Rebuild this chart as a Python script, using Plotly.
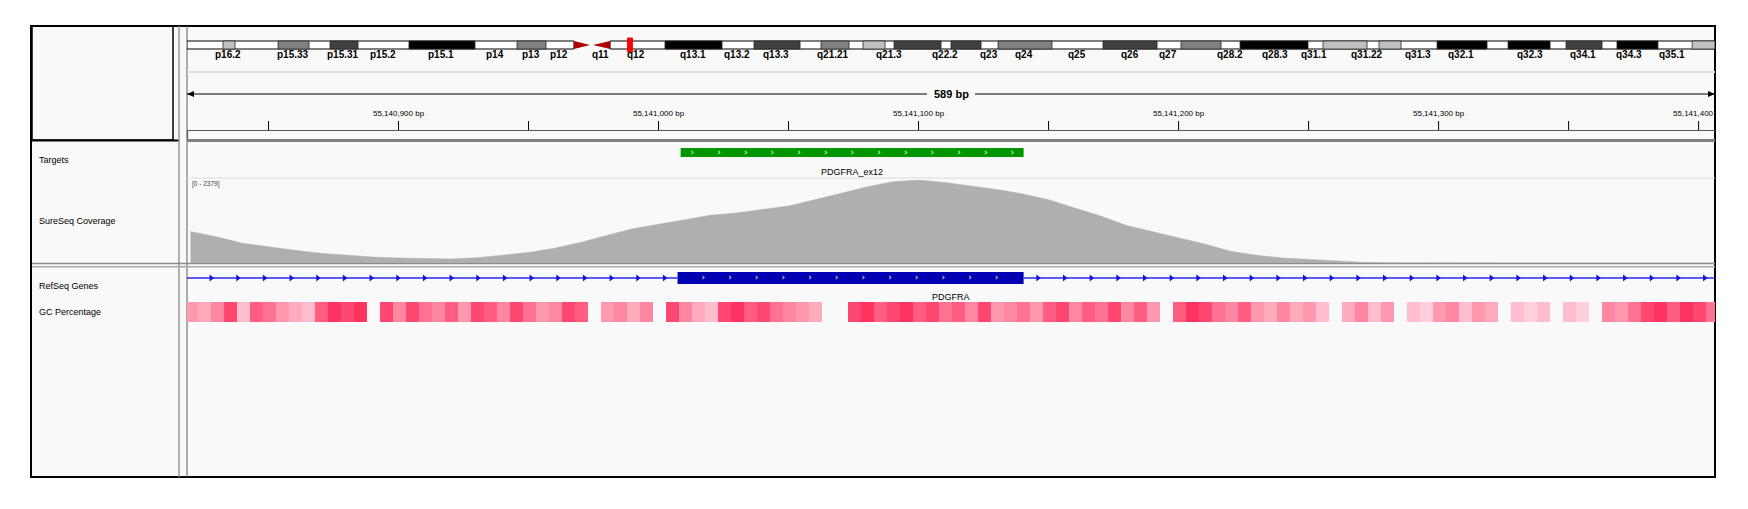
import numpy as np
import plotly.graph_objects as go

W, H = 1748, 509

# ---------------- data ----------------
view_start = 55140818.65
view_end = 55141406.3
ruler_label = "589 bp"
chrom_length_mb = 190.2

tick_major = [55140900, 55141000, 55141100, 55141200, 55141300, 55141400]
tick_major_labels = ["55,140,900 bp", "55,141,000 bp", "55,141,100 bp",
                     "55,141,200 bp", "55,141,300 bp", "55,141,400 bp"]
tick_minor = [55140850, 55140950, 55141050, 55141150, 55141250, 55141350]

# chr4 ideogram (Mb)
band_start = [4.48, 11.33, 17.80, 27.63, 41.08, 59.50, 70.58, 78.92, 84.15, 88.01, 95.10,
              100.95, 114.02, 123.73, 131.08, 141.41, 148.38, 155.60, 164.44, 171.66, 178.0, 187.35]
band_end = [5.98, 15.19, 21.29, 35.85, 44.69, 66.60, 76.31, 82.41, 86.89, 93.86, 98.84,
            107.67, 120.75, 128.71, 139.54, 146.89, 151.12, 161.82, 169.67, 176.14, 183.1, 190.2]
band_stain = ["gpos25", "gpos50", "gpos75", "gpos100", "gpos50", "gpos100", "gpos75", "gpos50",
              "gpos25", "gpos75", "gpos75", "gpos50", "gpos75", "gpos50", "gpos100", "gpos25",
              "gpos25", "gpos100", "gpos100", "gpos75", "gpos100", "gpos25"]
band_names = ["p16.2", "p15.33", "p15.31", "p15.2", "p15.1", "p14", "p13", "p12", "q11", "q12",
              "q13.1", "q13.2", "q13.3", "q21.21", "q21.3", "q22.2", "q23", "q24", "q25", "q26",
              "q27", "q28.2", "q28.3", "q31.1", "q31.22", "q31.3", "q32.1", "q32.3", "q34.1",
              "q34.3", "q35.1"]
band_name_pos = [5.10, 13.19, 19.42, 24.40, 31.62, 38.34, 42.82, 46.31, 51.41, 55.89,
                 62.99, 68.46, 73.32, 80.41, 87.39, 94.36, 99.83, 104.19, 110.79, 117.38,
                 122.11, 129.83, 135.43, 140.29, 146.89, 153.24, 158.59, 167.18, 173.78,
                 179.51, 184.86]
cen_p = [48.17, 50.17]
cen_q = [50.54, 52.66]

# features
target_start, target_end, target_name = 55141008.5, 55141140.4, "PDGFRA_ex12"
gene_start, gene_end, gene_name = 55095264, 55164414, "PDGFRA"
exon_start, exon_end = 55141007.3, 55141140.4

# coverage
cov_pos = [55140820, 55140830, 55140840, 55140850, 55140860, 55140870, 55140880, 55140890,
           55140900, 55140910, 55140920, 55140930, 55140940, 55140950, 55140960, 55140970,
           55140980, 55140990, 55141000, 55141010, 55141020, 55141030, 55141040, 55141050,
           55141060, 55141070, 55141080, 55141090, 55141100, 55141110, 55141120, 55141130,
           55141140, 55141150, 55141160, 55141170, 55141180, 55141190, 55141200, 55141210,
           55141220, 55141230, 55141240, 55141250, 55141260, 55141270, 55141280, 55141290,
           55141300, 55141310, 55141320, 55141330, 55141340, 55141350, 55141360, 55141370,
           55141380, 55141390, 55141400, 55141410]
cov_val = [900, 750, 565, 455, 365, 280, 215, 170, 145, 125, 118, 150, 215, 300, 425, 590,
           790, 980, 1110, 1240, 1370, 1435, 1525, 1635, 1810, 1990, 2180, 2330, 2379, 2310,
           2220, 2110, 1980, 1815, 1580, 1347, 1075, 895, 720, 545, 335, 220, 145, 100,
           55, 25, 5, 0, 0, 0, 0, 0, 0, 0, 0, 0, 0, 0, 0, 0]
cov_max = 2379

# GC percentage, 5-bp windows
gc_start = 55140818
gc_window = 5
gc_val = [50, 45, 55, 70, 40, 65, 60, 50, 45, 40,
          65, 75, 70, 75, None, 70, 55, 70, 60, 55,
          65, 50, 70, 65, 55, 70, 60, 50, 55, 70,
          65, None, 50, 55, 45, 55, None, 70, 55, 45,
          40, 70, 75, 65, 70, 60, 55, 50, 45, None,
          None, 70, 75, 65, 70, 75, 65, 70, 60, 65,
          55, 70, 50, 55, 60, 50, 65, 70, 55, 65,
          60, 70, 55, 65, 50, None, 65, 75, 70, 60,
          55, 65, 50, 45, 55, 45, 50, 40, None, 45,
          55, 40, 50, None, 40, 35, 50, 55, 40, 50,
          45, None, 40, 35, 40, None, 40, 35, None, 55,
          50, 60, 70, 75, 65, 75, 70, 60]

track_names = ["Targets", "SureSeq Coverage", "RefSeq Genes", "GC Percentage"]

# ---------------- layout helpers ----------------
OX, OY = 8, 8          # page body margin of the browser
X0, X1 = 187, 1715
FONT = "Liberation Sans"


def xp(px):
    return (px - OX) / W


def yp(py):
    return 1 - (py - OY) / H


stain_color = {"gpos25": "rgb(192,192,192)", "gpos50": "rgb(128,128,128)",
               "gpos75": "rgb(64,64,64)", "gpos100": "rgb(0,0,0)"}

shapes = []


def pline(x0, y0, x1, y1, color, width):
    shapes.append(dict(type="line", xref="paper", yref="paper", x0=xp(x0), x1=xp(x1),
                       y0=yp(y0), y1=yp(y1), line=dict(color=color, width=width), layer="below"))


# panel background + frame
shapes.append(dict(type="rect", xref="paper", yref="paper", x0=xp(31), x1=xp(1715),
                   y0=yp(477), y1=yp(26), fillcolor="rgb(249,249,249)",
                   line=dict(color="black", width=2), layer="below"))
# header name box
shapes.append(dict(type="rect", xref="paper", yref="paper", x0=xp(32), x1=xp(173),
                   y0=yp(140), y1=yp(26), line=dict(color="black", width=1.5), layer="below"))
pline(32, 140.5, 179, 140.5, "black", 2)
pline(179, 26, 179, 477, "rgb(150,150,150)", 1.5)
pline(187, 26, 187, 477, "rgb(120,120,120)", 1.2)
pline(187, 72, 1715, 72, "rgb(222,222,222)", 2)
pline(187, 130.5, 1715, 130.5, "rgb(90,90,90)", 1.2)
pline(187.5, 130, 187.5, 140, "rgb(90,90,90)", 1.2)
pline(187, 140.5, 1715, 140.5, "rgb(128,128,128)", 3)
pline(187, 178, 1715, 178, "rgb(220,220,220)", 1.2)
pline(32, 263.5, 1715, 263.5, "rgb(140,140,140)", 1.5)
pline(32, 266.8, 1715, 266.8, "rgb(170,170,170)", 1.5)

# ideogram
iy0, iy1 = yp(49), yp(41)
for a, b in [(0, cen_p[0]), (cen_q[1], chrom_length_mb)]:
    shapes.append(dict(type="rect", xref="x2", yref="paper", x0=a, x1=b, y0=iy0, y1=iy1,
                       fillcolor="white", line=dict(color="black", width=1), layer="below"))
for s, e, st in zip(band_start, band_end, band_stain):
    shapes.append(dict(type="rect", xref="x2", yref="paper", x0=s, x1=e, y0=iy0, y1=iy1,
                       fillcolor=stain_color[st], line=dict(color="rgb(40,40,40)", width=0.8),
                       layer="below"))
ymid = (iy0 + iy1) / 2
shapes.append(dict(type="path", xref="x2", yref="paper",
                   path=f"M {cen_p[0]},{iy0} L {cen_p[1]},{ymid} L {cen_p[0]},{iy1} Z",
                   fillcolor="rgb(175,0,0)", line=dict(width=0), layer="below"))
shapes.append(dict(type="path", xref="x2", yref="paper",
                   path=f"M {cen_q[1]},{iy0} L {cen_q[0]},{ymid} L {cen_q[1]},{iy1} Z",
                   fillcolor="rgb(175,0,0)", line=dict(width=0), layer="below"))
view_mb = (view_start + view_end) / 2e6
shapes.append(dict(type="rect", xref="x2", yref="paper", x0=view_mb - 0.3, x1=view_mb + 0.3,
                   y0=yp(52), y1=yp(38), fillcolor="rgb(255,0,0)",
                   line=dict(color="rgb(255,0,0)", width=1), layer="below"))

# ruler line with arrows and centered label
cx = (X0 + X1) / 2
pline(X0, 94, cx - 24, 94, "black", 1)
pline(cx + 24, 94, X1, 94, "black", 1)
shapes.append(dict(type="path", xref="paper", yref="paper",
                   path=f"M {xp(X0)},{yp(94)} L {xp(X0 + 7)},{yp(91)} L {xp(X0 + 7)},{yp(97)} Z",
                   fillcolor="black", line=dict(width=0), layer="below"))
shapes.append(dict(type="path", xref="paper", yref="paper",
                   path=f"M {xp(X1)},{yp(94)} L {xp(X1 - 7)},{yp(91)} L {xp(X1 - 7)},{yp(97)} Z",
                   fillcolor="black", line=dict(width=0), layer="below"))
for t in tick_major + tick_minor:
    shapes.append(dict(type="line", xref="x", yref="paper", x0=t, x1=t, y0=yp(130), y1=yp(121),
                       line=dict(color="black", width=1), layer="below"))

# target and exon blocks
shapes.append(dict(type="rect", xref="x", yref="paper", x0=target_start, x1=target_end,
                   y0=yp(157), y1=yp(148), fillcolor="rgb(0,150,0)", line=dict(width=0),
                   layer="below"))
shapes.append(dict(type="rect", xref="x", yref="paper", x0=exon_start, x1=exon_end,
                   y0=yp(284), y1=yp(272), fillcolor="rgb(0,0,178)", line=dict(width=0),
                   layer="below"))

# ---------------- traces ----------------
fig = go.Figure()

# ruler tick labels (clipped at panel edge)
fig.add_trace(go.Scatter(x=tick_major, y=[0.5] * len(tick_major), text=tick_major_labels,
                         mode="text", textfont=dict(family=FONT, size=8, color="black"),
                         xaxis="x", yaxis="y", cliponaxis=True, hoverinfo="skip",
                         showlegend=False))

# target chevrons
step = 26.67 / ((X1 - X0) / (view_end - view_start))
t_chev = np.arange(target_start + 4.5, target_end - 2, step)
fig.add_trace(go.Scatter(x=t_chev, y=[0.5] * len(t_chev), text=["›"] * len(t_chev),
                         mode="text", textfont=dict(family="DejaVu Sans", size=9, color="white"),
                         xaxis="x", yaxis="y3", cliponaxis=False, hoverinfo="skip",
                         showlegend=False))

# coverage
fig.add_trace(go.Scatter(x=cov_pos, y=cov_val, mode="lines", fill="tozeroy",
                         fillcolor="rgb(175,175,175)", line=dict(color="rgb(175,175,175)", width=0.5),
                         xaxis="x", yaxis="y4", hoverinfo="skip", showlegend=False))

# gene line
fig.add_trace(go.Scatter(x=[gene_start, exon_start, None, exon_end, gene_end],
                         y=[0.5, 0.5, None, 0.5, 0.5], mode="lines",
                         line=dict(color="rgb(40,40,245)", width=1.6),
                         xaxis="x", yaxis="y5", hoverinfo="skip", showlegend=False))
arrows = np.arange(view_start + 9.25, view_end, step)
arrows = arrows[(arrows < exon_start - 2) | (arrows > exon_end + 2)]
fig.add_trace(go.Scatter(x=arrows, y=[0.5] * len(arrows), mode="markers",
                         marker=dict(symbol="triangle-right", size=6, color="rgb(20,20,220)"),
                         xaxis="x", yaxis="y5", cliponaxis=True, hoverinfo="skip",
                         showlegend=False))
g_chev = np.arange(exon_start + 9.9, exon_end - 2, step)
fig.add_trace(go.Scatter(x=g_chev, y=[0.5] * len(g_chev), text=["›"] * len(g_chev),
                         mode="text", textfont=dict(family="DejaVu Sans", size=9, color="white"),
                         xaxis="x", yaxis="y5", cliponaxis=False, hoverinfo="skip",
                         showlegend=False))

# GC percentage heatmap
fig.add_trace(go.Heatmap(z=[gc_val], x0=gc_start + gc_window / 2, dx=gc_window, y=[0],
                         colorscale=[[0, "rgb(255,226,233)"], [0.5, "rgb(255,135,162)"],
                                     [1, "rgb(255,30,80)"]],
                         zmin=30, zmax=80, showscale=False, hoverinfo="skip",
                         xaxis="x", yaxis="y6"))

# ---------------- annotations ----------------
ann = []
for name, pos in zip(band_names, band_name_pos):
    ann.append(dict(x=pos, y=yp(55), xref="x2", yref="paper", text=f"<b>{name}</b>",
                    showarrow=False, font=dict(family=FONT, size=10, color="black"),
                    xanchor="center", yanchor="middle"))
ann.append(dict(x=xp(cx), y=yp(94), xref="paper", yref="paper", text=f"<b>{ruler_label}</b>",
                showarrow=False, font=dict(family=FONT, size=11, color="black"),
                xanchor="center", yanchor="middle"))
for name, py in zip(track_names, [159.5, 221, 285.5, 312]):
    ann.append(dict(x=xp(37), y=yp(py), xref="paper", yref="paper", text=name, showarrow=False,
                    font=dict(family=FONT, size=9, color="black"), xanchor="left",
                    yanchor="middle"))
ann.append(dict(x=xp(190), y=yp(184), xref="paper", yref="paper", text=f"[0 - {cov_max}]",
                showarrow=False, font=dict(family=FONT, size=6.5, color="rgb(60,60,60)"),
                xanchor="left", yanchor="middle"))
ann.append(dict(x=(target_start + target_end) / 2, y=yp(172), xref="x", yref="paper",
                text=target_name, showarrow=False, font=dict(family=FONT, size=9, color="black"),
                xanchor="center", yanchor="middle"))
gene_label_x = (max(gene_start, view_start) + min(gene_end, view_end)) / 2
ann.append(dict(x=gene_label_x, y=yp(297), xref="x", yref="paper", text=gene_name,
                showarrow=False, font=dict(family=FONT, size=9, color="black"),
                xanchor="center", yanchor="middle"))

axis_off = dict(visible=False, fixedrange=True, showgrid=False, zeroline=False)
dom = [xp(X0), xp(X1)]
fig.update_layout(
    width=W, height=H, autosize=False,
    margin=dict(l=0, r=0, t=0, b=0, pad=0),
    paper_bgcolor="white", plot_bgcolor="rgba(0,0,0,0)",
    showlegend=False,
    xaxis=dict(axis_off, domain=dom, range=[view_start, view_end], anchor="y"),
    xaxis2=dict(axis_off, domain=dom, range=[0, chrom_length_mb], anchor="y2"),
    yaxis=dict(axis_off, domain=[yp(126), yp(102)], range=[0, 1], anchor="x"),
    yaxis2=dict(axis_off, domain=[yp(49), yp(41)], range=[0, 1], anchor="x2"),
    yaxis3=dict(axis_off, domain=[yp(157), yp(148)], range=[0, 1], anchor="x"),
    yaxis4=dict(axis_off, domain=[yp(263), yp(180)], range=[0, cov_max], anchor="x"),
    yaxis5=dict(axis_off, domain=[yp(284), yp(272)], range=[0, 1], anchor="x"),
    yaxis6=dict(axis_off, domain=[yp(322), yp(302)], range=[-0.5, 0.5], anchor="x"),
    shapes=shapes,
    annotations=ann,
)

fig.write_html("out.html", config={"displayModeBar": False})
